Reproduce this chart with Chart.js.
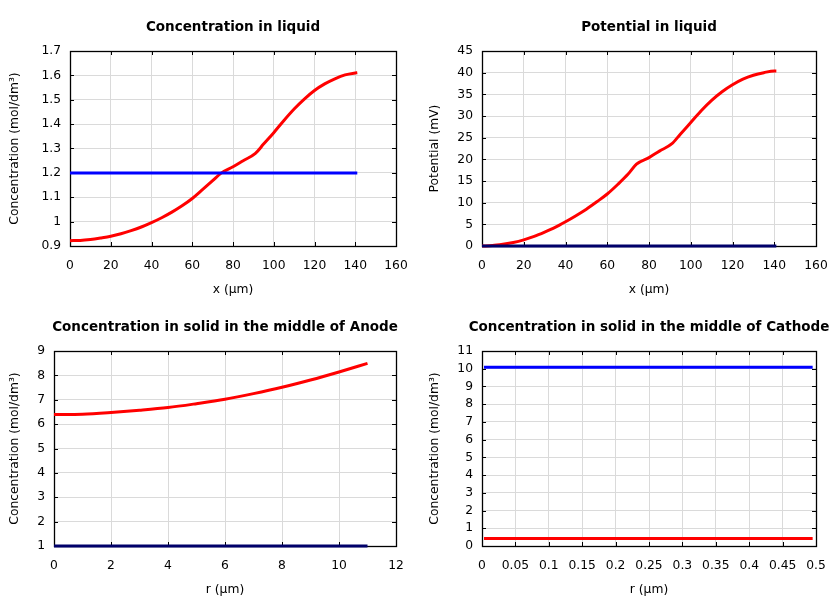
<!DOCTYPE html>
<html><head><meta charset="utf-8">
<script src="https://cdn.jsdelivr.net/npm/chart.js@4.4.1/dist/chart.umd.min.js"></script>
<style>
body{margin:0;background:#fff;width:840px;height:600px;position:relative;overflow:hidden}
.c{position:absolute}
</style></head><body>
<canvas id="c1" class="c" width="420" height="300" style="left:0;top:0"></canvas>
<canvas id="c2" class="c" width="420" height="300" style="left:420px;top:0"></canvas>
<canvas id="c3" class="c" width="420" height="300" style="left:0;top:300px"></canvas>
<canvas id="c4" class="c" width="420" height="300" style="left:420px;top:300px"></canvas>
<script>
// ---- data ----
const liqX = [0,5,10,15,20,25,30,35,40,45,50,55,60,65,70,74,80,85,91,95,100,105,110,115,120,125,130,135,140,141];
const liqConc = [0.922,0.923,0.927,0.933,0.940,0.950,0.963,0.978,0.996,1.016,1.039,1.065,1.095,1.131,1.168,1.198,1.225,1.250,1.280,1.318,1.365,1.415,1.462,1.503,1.538,1.565,1.586,1.602,1.610,1.611];
const liqConcInit = [1.2,1.2,1.2,1.2,1.2,1.2,1.2,1.2,1.2,1.2,1.2,1.2,1.2,1.2,1.2,1.2,1.2,1.2,1.2,1.2,1.2,1.2,1.2,1.2,1.2,1.2,1.2,1.2,1.2,1.2];
const liqPot = [0,0.1,0.4,0.8,1.4,2.2,3.2,4.3,5.6,7.0,8.5,10.2,12.0,14.2,16.6,18.9,20.4,21.9,23.6,25.8,28.5,31.2,33.6,35.6,37.2,38.5,39.4,40.0,40.4,40.4];
const liqPotInit = [0,0,0,0,0,0,0,0,0,0,0,0,0,0,0,0,0,0,0,0,0,0,0,0,0,0,0,0,0,0];
const anodeR = [0,1,2,3,4,5,6,7,8,9,10,11];
const anodeConc = [6.39,6.41,6.48,6.57,6.68,6.84,7.02,7.25,7.51,7.81,8.14,8.49];
const anodeConcInit = [1,1,1,1,1,1,1,1,1,1,1,1];
const cathR = [0.003,0.1,0.2,0.3,0.4,0.495];
const cathConcInit = [10.08,10.08,10.08,10.08,10.08,10.08];
const cathConc = [0.43,0.43,0.43,0.43,0.43,0.43];
const xTicksLiq = [0,20,40,60,80,100,120,140,160];
const yTicksConcLiq = [0.9,1,1.1,1.2,1.3,1.4,1.5,1.6,1.7];
const yTicksPot = [0,5,10,15,20,25,30,35,40,45];
const xTicksAnode = [0,2,4,6,8,10,12];
const yTicksAnode = [1,2,3,4,5,6,7,8,9];
const xTicksCath = [0,0.05,0.1,0.15,0.2,0.25,0.3,0.35,0.4,0.45,0.5];
const yTicksCath = [0,1,2,3,4,5,6,7,8,9,10,11];

Chart.defaults.font.family = "'DejaVu Sans', sans-serif";
Chart.defaults.font.size = 12;
Chart.defaults.color = '#000';

const RED = '#ff0000', BLUE = '#0000ff', NAVY = '#00006a';

const framePlugin = {
  id: 'frame',
  beforeDatasetsDraw(chart) {
    const {ctx, chartArea: a, scales} = chart;
    ctx.save();
    ctx.strokeStyle = '#000';
    ctx.lineWidth = 1;
    ctx.beginPath();
    const L = 4;
    scales.x.ticks.forEach(t => {
      const px = Math.round(scales.x.getPixelForValue(t.value)) + 0.5;
      ctx.moveTo(px, a.bottom); ctx.lineTo(px, a.bottom - L);
      ctx.moveTo(px, a.top); ctx.lineTo(px, a.top + L);
    });
    scales.y.ticks.forEach(t => {
      const py = Math.round(scales.y.getPixelForValue(t.value)) + 0.5;
      ctx.moveTo(a.left, py); ctx.lineTo(a.left + L, py);
      ctx.moveTo(a.right, py); ctx.lineTo(a.right - L, py);
    });
    ctx.stroke();
    ctx.lineWidth = 1.3;
    ctx.strokeRect(Math.round(a.left)+0.5, Math.round(a.top)+0.5, Math.round(a.right-a.left), Math.round(a.bottom-a.top));
    ctx.restore();
  },
  afterDraw(chart, args, opts) {
    const {ctx, chartArea: a} = chart;
    ctx.save();
    ctx.font = "bold 13.5px 'DejaVu Sans', sans-serif";
    ctx.fillStyle = '#000';
    ctx.textAlign = 'center';
    ctx.textBaseline = 'middle';
    ctx.fillText(opts.text, (a.left + a.right) / 2, a.top - 24);
    ctx.restore();
  }
};

function pts(xs, ys) { return xs.map((x, i) => ({x, y: ys[i]})); }

function makeChart(id, cfg) {
  const ds = cfg.series.map(s => ({
    data: pts(s.x, s.y), borderColor: s.color, borderWidth: 3,
    pointRadius: 0, fill: false, clip: false,
    cubicInterpolationMode: 'monotone', tension: 0
  }));
  return new Chart(document.getElementById(id), {
    type: 'line',
    data: { datasets: ds },
    plugins: [framePlugin],
    options: {
      responsive: false, animation: false,
      layout: { padding: { top: 51, right: 24, left: 0, bottom: 0 } },
      plugins: { legend: { display: false }, tooltip: { enabled: false }, frame: { text: cfg.title } },
      scales: {
        x: {
          type: 'linear', min: cfg.xTicks[0], max: cfg.xTicks[cfg.xTicks.length - 1],
          afterBuildTicks: s => { s.ticks = cfg.xTicks.map(v => ({value: v})); },
          afterFit: s => { s.height = 54; },
          ticks: { padding: 12, maxRotation: 0, autoSkip: false, callback: v => String(v), font: { size: 12.3 } },
          grid: { color: '#dadada', drawTicks: false },
          border: { display: false },
          title: { display: true, text: cfg.xTitle, padding: { top: 0, bottom: 3 }, font: { size: 12.3 } }
        },
        y: {
          type: 'linear', min: cfg.yTicks[0], max: cfg.yTicks[cfg.yTicks.length - 1],
          afterBuildTicks: s => { s.ticks = cfg.yTicks.map(v => ({value: v})); },
          afterFit: s => { s.width = cfg.yWidth; },
          ticks: { padding: 9, autoSkip: false, callback: v => String(v), font: { size: 12.3 } },
          grid: { color: '#dadada', drawTicks: false },
          border: { display: false },
          title: { display: true, text: cfg.yTitle, padding: { top: 7, bottom: 0 }, font: { size: 12.3 } }
        }
      }
    }
  });
}

makeChart('c1', {
  title: 'Concentration in liquid', xTitle: 'x (µm)', yTitle: 'Concentration (mol/dm³)', yWidth: 70,
  xTicks: xTicksLiq, yTicks: yTicksConcLiq,
  series: [{x: liqX, y: liqConcInit, color: BLUE}, {x: liqX, y: liqConc, color: RED}]
});
makeChart('c2', {
  title: 'Potential in liquid', xTitle: 'x (µm)', yTitle: 'Potential (mV)', yWidth: 62,
  xTicks: xTicksLiq, yTicks: yTicksPot,
  series: [{x: liqX, y: liqPotInit, color: NAVY}, {x: liqX, y: liqPot, color: RED}]
});
makeChart('c3', {
  title: 'Concentration in solid in the middle of Anode', xTitle: 'r (µm)', yTitle: 'Concentration (mol/dm³)', yWidth: 54,
  xTicks: xTicksAnode, yTicks: yTicksAnode,
  series: [{x: anodeR, y: anodeConcInit, color: NAVY}, {x: anodeR, y: anodeConc, color: RED}]
});
makeChart('c4', {
  title: 'Concentration in solid in the middle of Cathode', xTitle: 'r (µm)', yTitle: 'Concentration (mol/dm³)', yWidth: 62,
  xTicks: xTicksCath, yTicks: yTicksCath,
  series: [{x: cathR, y: cathConcInit, color: BLUE}, {x: cathR, y: cathConc, color: RED}]
});
</script>
</body></html>
